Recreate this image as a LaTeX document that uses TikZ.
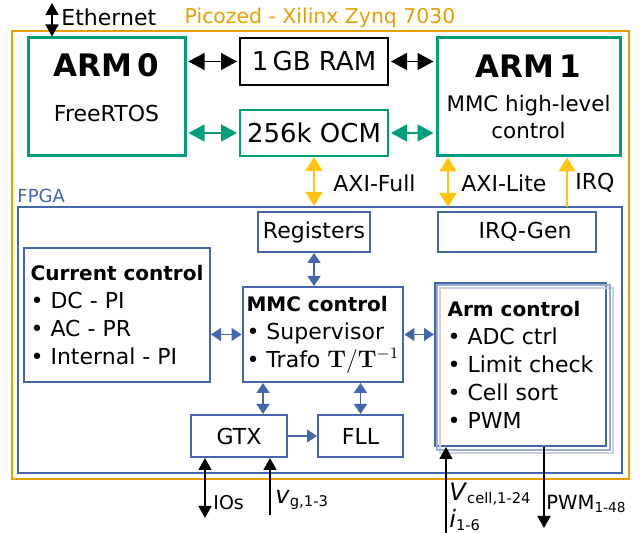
\documentclass[tikz,border=0pt]{standalone}
\usepackage[no-math]{fontspec}
\setmainfont{DejaVu Sans}
\usetikzlibrary{arrows.meta,calc,positioning}

\definecolor{zynqorange}{HTML}{E69F00}
\definecolor{armgreen}{HTML}{009E7A}
\definecolor{axiyellow}{HTML}{FFC40C}
\definecolor{fpgablue}{HTML}{4466AA}

% heading line inside the FPGA blocks
\newcommand{\blkhead}[1]{{\fontsize{10}{11}\selectfont\bfseries #1}}

\begin{document}
\begin{tikzpicture}[x=0.5pt,y=-0.5pt,
  txt/.style={font=\fontsize{11}{14}\selectfont},
  armbox/.style={draw=armgreen, line width=1.5pt},
  membox/.style={line width=1pt, font=\fontsize{13}{16}\selectfont},
  blk/.style={draw=fpgablue, line width=1pt, inner sep=2pt, txt},
  memlink/.style={<->, line width=0.7pt, >={Triangle[length=8pt,width=8.5pt]}},
  axilink/.style={draw=axiyellow, line width=1pt, >={Triangle[length=7pt,width=8.5pt]}},
  fpgalink/.style={draw=fpgablue, line width=0.7pt, >={Triangle[length=5pt,width=6.5pt]}},
  extlink/.style={line width=0.7pt, >={Triangle[length=6pt,width=6.5pt]}}]

\useasboundingbox (0,0) rectangle (643,533);

% ===== ZYNQ SOC AND FPGA FRAMES =====
\node[draw=zynqorange, line width=1.4pt, minimum width=308.5pt, minimum height=224pt] (zynq) at (320.5,255) {};
\node[text=zynqorange, font=\fontsize{10.2}{12}\selectfont] (zynqname) at (320,18) {Picozed - Xilinx Zynq 7030};

\node[draw=fpgablue, line width=1.2pt, minimum width=302pt, minimum height=133pt] (fpga) at (320,340) {};
\node[text=fpgablue, anchor=west, inner sep=0pt, font=\fontsize{9}{11}\selectfont] (fpganame) at (17,196) {FPGA};

% ===== PROCESSING SYSTEM =====
\node[armbox, minimum width=78.5pt, minimum height=59pt] (arm0) at (106.5,97) {};
\node[font=\fontsize{15.5}{18}\selectfont\bfseries] (arm0name) at (106.5,65) {ARM\,0};
\node[txt] (arm0os) at (106.5,113) {FreeRTOS};

\node[armbox, minimum width=91.5pt, minimum height=59pt] (arm1) at (528.5,97) {};
\node[font=\fontsize{15.5}{18}\selectfont\bfseries] (arm1name) at (528.5,66) {ARM\,1};
\node[txt, align=center, font=\fontsize{10.7}{13.5}\selectfont] (arm1task) at (528.5,117) {MMC high-level\\control};

\node[membox, draw=black, minimum width=74pt, minimum height=23.5pt] (ram) at (314,61.5) {1\,GB RAM};
\node[membox, draw=armgreen, minimum width=74pt, minimum height=23pt] (ocm) at (314,133) {256k OCM};

% Memory connections
\draw[memlink, shorten <=1pt, shorten >=1pt] (ram.west -| arm0.east) -- (ram.west);
\draw[memlink, shorten <=1pt, shorten >=1pt] (ram.east) -- (ram.east -| arm1.west);
\draw[memlink, armgreen, shorten <=1pt, shorten >=1pt] (ocm.west -| arm0.east) -- (ocm.west);
\draw[memlink, armgreen, shorten <=1pt, shorten >=1pt] (ocm.east) -- (ocm.east -| arm1.west);

% Ethernet port of ARM 0
\coordinate (ethend) at (52,3);
\draw[extlink, <->] (ethend) -- (ethend |- arm0.north);
\node[txt, anchor=west, inner sep=0pt] (ethname) at (61,17) {Ethernet};

% ===== AXI BUSES =====
\coordinate (axilite) at (448,207);
\coordinate (irqsrc) at (567,207);
\draw[axilink, <->] (ocm.south) -- (ocm.south |- fpga.north);
\draw[axilink, <->] (axilite |- arm1.south) -- (axilite);
\draw[axilink, ->] (irqsrc) -- (irqsrc |- arm1.south);
\node[txt, anchor=west, inner sep=0pt] (axifull) at (333,183) {AXI-Full};
\node[txt, anchor=west, inner sep=0pt] (axilitename) at (461,183) {AXI-Lite};
\node[txt, anchor=west, inner sep=0pt] (irqname) at (575,183) {IRQ};

% ===== FPGA BLOCKS =====
\node[blk, minimum width=56pt, minimum height=20pt] (regs) at (314,232) {Registers};
\node[blk, minimum width=79pt, minimum height=20pt] (irqgen) at (517,232) {\hspace*{8pt}IRQ-Gen};

\node[blk, align=left, minimum width=93pt, minimum height=67pt] (cur) at (117,315)
  {\blkhead{Current control}\\\textbullet{} DC - PI\\\textbullet{} AC - PR\\\textbullet{} Internal - PI};
\node[blk, align=left, minimum width=78pt, minimum height=47.5pt] (mmc) at (323,334.5)
  {\blkhead{MMC control}\\\textbullet{} Supervisor\\\textbullet{} Trafo {\large$\mathbf{T}/\mathbf{T}^{-1}$}};

% Arm control with its stacked copies
\node[blk, align=left, minimum width=85.5pt, minimum height=81.5pt] (armc) at (520.5,364.5)
  {\blkhead{Arm control}\\\textbullet{} ADC ctrl\\\textbullet{} Limit check\\\textbullet{} Cell sort\\\textbullet{} PWM};
\foreach \s/\c in {6/30,3/55}
  \draw[fpgablue!\c, line width=0.9pt] ($(armc.north west)+(\s,\s)$) rectangle ($(armc.south east)+(\s,\s)$);

\node[blk, minimum width=48pt, minimum height=21pt] (gtx) at (239,436) {GTX};
\node[blk, minimum width=42.5pt, minimum height=21pt] (fll) at (360.5,436) {FLL};

% FPGA internal links
\draw[fpgalink, <->] (regs.south) -- (regs.south |- mmc.north);
\draw[fpgalink, <->] (mmc.west -| cur.east) -- (mmc.west);
\draw[fpgalink, <->] (mmc.east) -- (mmc.east -| armc.west);
\draw[fpgalink, <->] ([xshift=12pt]gtx.north) -- ([xshift=12pt]gtx.north |- mmc.south);
\draw[fpgalink, <->] (fll.north) -- (fll.north |- mmc.south);
\draw[fpgalink, ->] (gtx) -- (fll);

% ===== EXTERNAL SIGNALS =====
\coordinate (ioend) at (205,518);
\coordinate (vgin) at (270,515);
\coordinate (vcellin) at (446,533);
\coordinate (pwmout) at (544,528);

\draw[extlink, <->] (ioend |- gtx.south) -- (ioend);
\draw[extlink, ->] (vgin) -- (vgin |- gtx.south);
\draw[extlink, ->] (vcellin) -- (vcellin |- armc.south);
\draw[extlink, ->] (pwmout |- armc.south) -- (pwmout);

\node[anchor=west, inner sep=0pt, font=\fontsize{9.5}{11}\selectfont] (iosname) at (213,503) {IOs};
\node[anchor=west, inner sep=0pt, font=\fontsize{12}{14}\selectfont] (vgname) at (275,500) {\textit{v}{\fontsize{10.5}{12}\selectfont\textsubscript{g,1-3}}};
\node[anchor=west, inner sep=0pt, font=\fontsize{12}{14}\selectfont] (vcellname) at (449,494) {\textit{V}{\fontsize{10.5}{12}\selectfont\textsubscript{cell,1-24}}};
\node[anchor=west, inner sep=0pt, font=\fontsize{12}{14}\selectfont] (iname) at (449,520) {\textit{i}{\fontsize{10.5}{12}\selectfont\textsubscript{1-6}}};
\node[anchor=west, inner sep=0pt, font=\fontsize{9.8}{11}\selectfont] (pwmname) at (546,504) {PWM\textsubscript{1-48}};

\end{tikzpicture}
\end{document}
